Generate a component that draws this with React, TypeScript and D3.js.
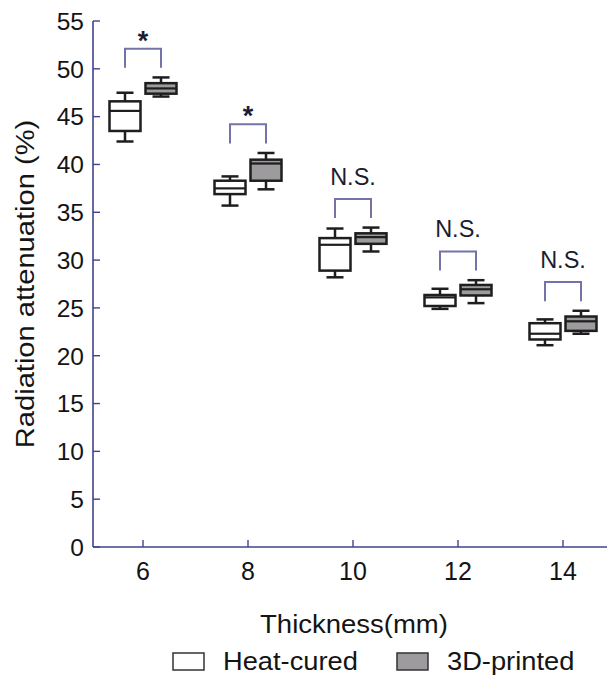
import React, { useEffect, useRef } from 'react';
import * as d3 from 'd3';

// thickness groups (mm)
const thickness = [6, 8, 10, 12, 14];
// five-number summaries: [min, q1, median, q3, max]
const heatCured = [
  [42.4, 43.5, 45.6, 46.6, 47.5],
  [35.7, 36.9, 37.5, 38.3, 38.75],
  [28.2, 28.9, 31.6, 32.3, 33.3],
  [24.9, 25.2, 26.1, 26.35, 27.0],
  [21.1, 21.7, 22.3, 23.4, 23.8],
];
const printed3D = [
  [47.1, 47.4, 47.95, 48.5, 49.1],
  [37.4, 38.3, 40.1, 40.5, 41.2],
  [30.9, 31.7, 32.4, 32.8, 33.4],
  [25.5, 26.3, 26.95, 27.4, 27.9],
  [22.3, 22.6, 23.6, 24.1, 24.7],
];
const significance = ['*', '*', 'N.S.', 'N.S.', 'N.S.'];
const yTicks = d3.range(0, 56, 5);
const seriesNames = ['Heat-cured', '3D-printed'];

const W = 608;
const H = 679;
const FONT = 'Liberation Sans, Arial, Helvetica, sans-serif';
const AXIS_COLOR = '#43438c';
const BRACKET_COLOR = '#7373a8';
const TEXT_COLOR = '#141414';
const FILLS = ['#ffffff', '#9d9b9d'];

const App = () => {
  const svgRef = useRef(null);

  useEffect(() => {
    document.body.style.margin = '0';
    const svg = d3.select(svgRef.current);
    svg.selectAll('*').remove();

    const axisX = 93;
    const x = d3.scaleLinear().domain([6, 14]).range([143, 563]);
    const y = d3.scaleLinear().domain([0, 55]).range([547, 21]);

    const boxW = 31;
    const capW = 17;
    const offset = 18;

    // axes
    svg.append('line')
      .attr('x1', axisX).attr('x2', axisX)
      .attr('y1', y(55)).attr('y2', y(0))
      .attr('stroke', AXIS_COLOR).attr('stroke-width', 1.6);
    svg.append('line')
      .attr('x1', axisX).attr('x2', W - 1)
      .attr('y1', y(0)).attr('y2', y(0))
      .attr('stroke', AXIS_COLOR).attr('stroke-width', 1.6);

    svg.selectAll('.ytick')
      .data(yTicks)
      .enter()
      .append('line')
      .attr('x1', axisX).attr('x2', axisX + 7)
      .attr('y1', (d) => y(d)).attr('y2', (d) => y(d))
      .attr('stroke', AXIS_COLOR).attr('stroke-width', 1.4);
    svg.selectAll('.ylab')
      .data(yTicks)
      .enter()
      .append('text')
      .attr('x', axisX - 9)
      .attr('y', (d) => y(d))
      .attr('dy', '0.36em')
      .attr('text-anchor', 'end')
      .attr('font-family', FONT)
      .attr('font-size', 24.5)
      .attr('fill', TEXT_COLOR)
      .text((d) => d);

    svg.selectAll('.xtick')
      .data(thickness)
      .enter()
      .append('line')
      .attr('x1', (d) => x(d)).attr('x2', (d) => x(d))
      .attr('y1', y(0)).attr('y2', y(0) - 7)
      .attr('stroke', AXIS_COLOR).attr('stroke-width', 1.4);
    svg.selectAll('.xlab')
      .data(thickness)
      .enter()
      .append('text')
      .attr('x', (d) => x(d))
      .attr('y', 580)
      .attr('text-anchor', 'middle')
      .attr('font-family', FONT)
      .attr('font-size', 25)
      .attr('fill', TEXT_COLOR)
      .text((d) => d);

    // axis titles
    svg.append('text')
      .attr('transform', 'translate(354,633) scale(1.1,1)')
      .attr('text-anchor', 'middle')
      .attr('font-family', FONT)
      .attr('font-size', 25)
      .attr('fill', TEXT_COLOR)
      .text('Thickness(mm)');
    svg.append('text')
      .attr('transform', `translate(34,${(y(0) + y(55)) / 2}) rotate(-90) scale(1.12,1)`)
      .attr('text-anchor', 'middle')
      .attr('font-family', FONT)
      .attr('font-size', 26)
      .attr('fill', TEXT_COLOR)
      .text('Radiation attenuation (%)');

    // boxes
    const drawBox = (g, cx, s, fill) => {
      const [mn, q1, md, q3, mx] = s;
      g.append('line')
        .attr('x1', cx).attr('x2', cx)
        .attr('y1', y(mx)).attr('y2', y(q3))
        .attr('stroke', '#1e1e1e').attr('stroke-width', 2.5);
      g.append('line')
        .attr('x1', cx).attr('x2', cx)
        .attr('y1', y(q1)).attr('y2', y(mn))
        .attr('stroke', '#1e1e1e').attr('stroke-width', 2.5);
      [mn, mx].forEach((v) => {
        g.append('line')
          .attr('x1', cx - capW / 2).attr('x2', cx + capW / 2)
          .attr('y1', y(v)).attr('y2', y(v))
          .attr('stroke', '#1e1e1e').attr('stroke-width', 2.5);
      });
      g.append('rect')
        .attr('x', cx - boxW / 2)
        .attr('y', y(q3))
        .attr('width', boxW)
        .attr('height', y(q1) - y(q3))
        .attr('fill', fill)
        .attr('stroke', '#1e1e1e')
        .attr('stroke-width', 2.5);
      g.append('line')
        .attr('x1', cx - boxW / 2).attr('x2', cx + boxW / 2)
        .attr('y1', y(md)).attr('y2', y(md))
        .attr('stroke', '#1e1e1e').attr('stroke-width', 2.2);
    };

    const boxes = svg.append('g');
    thickness.forEach((t, i) => {
      drawBox(boxes, x(t) - offset, heatCured[i], FILLS[0]);
      drawBox(boxes, x(t) + offset, printed3D[i], FILLS[1]);
    });

    // significance brackets
    const brackets = svg.append('g');
    thickness.forEach((t, i) => {
      const top = Math.max(heatCured[i][4], printed3D[i][4]) + 3;
      const x1 = x(t) - offset;
      const x2 = x(t) + offset;
      brackets.append('path')
        .attr('d', `M${x1},${y(top - 2)}V${y(top)}H${x2}V${y(top - 2)}`)
        .attr('fill', 'none')
        .attr('stroke', BRACKET_COLOR)
        .attr('stroke-width', 2);
      const isStar = significance[i] === '*';
      brackets.append('text')
        .attr('x', x(t))
        .attr('y', isStar ? y(top) + 1 : y(top) - 14)
        .attr('text-anchor', 'middle')
        .attr('font-family', FONT)
        .attr('font-size', isStar ? 27 : 23.5)
        .attr('font-weight', isStar ? 'bold' : 'normal')
        .attr('fill', '#1c1c30')
        .text(significance[i]);
    });

    // legend
    const legendItems = [
      { name: seriesNames[0], fill: FILLS[0], rx: 173, tx: 223 },
      { name: seriesNames[1], fill: FILLS[1], rx: 397, tx: 447 },
    ];
    const legend = svg.append('g');
    legendItems.forEach((item) => {
      legend.append('rect')
        .attr('x', item.rx)
        .attr('y', 653)
        .attr('width', 31)
        .attr('height', 17)
        .attr('fill', item.fill)
        .attr('stroke', '#333')
        .attr('stroke-width', 1.5);
      legend.append('text')
        .attr('transform', `translate(${item.tx},670) scale(1.07,1)`)
        .attr('font-family', FONT)
        .attr('font-size', 25.5)
        .attr('fill', TEXT_COLOR)
        .text(item.name);
    });
  }, []);

  return (
    <svg
      ref={svgRef}
      width={W}
      height={H}
      style={{ display: 'block', background: '#ffffff' }}
    />
  );
};

export default App;
